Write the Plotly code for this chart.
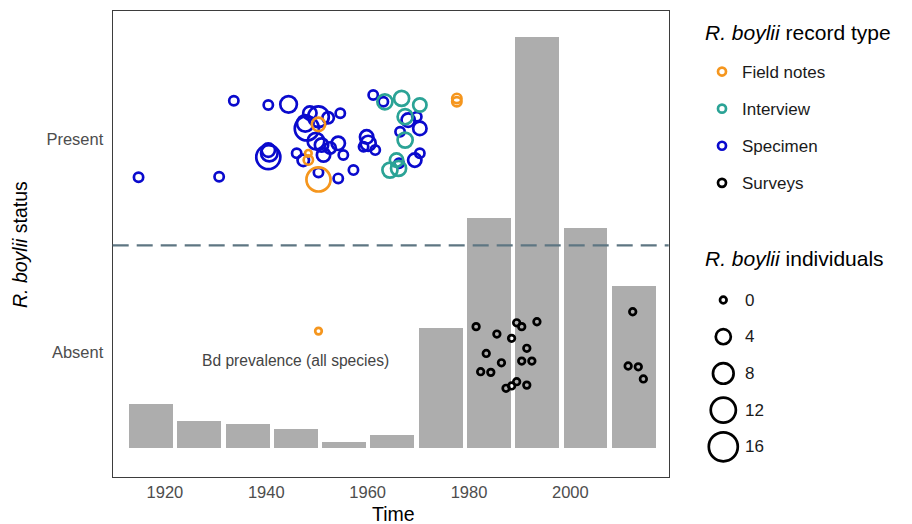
import numpy as np
import plotly.graph_objects as go

# ---------------- data ----------------
# Bd prevalence bars (decadal bins), heights in status-axis units above the bar base
bar_years = [1917.2, 1926.7, 1936.3, 1945.8, 1955.3, 1964.8, 1974.4, 1983.9, 1993.4, 2002.9, 2012.5]
bar_heights = [0.207, 0.127, 0.113, 0.090, 0.028, 0.061, 0.564, 1.081, 1.932, 1.035, 0.762]

# Specimen records (present)
spec_year = [1914.8, 1930.7, 1933.6, 1940.4, 1944.4, 1940.4, 1940.4, 1940.6, 1946.0, 1947.7,
             1948.0, 1950.3, 1950.9, 1951.3, 1950.3, 1954.6, 1954.2, 1955.2, 1957.2, 1954.2,
             1959.8, 1960.1, 1959.2, 1961.5, 1961.1, 1963.1, 1968.0, 1970.3, 1966.4, 1969.7,
             1970.3, 1969.3, 1966.2, 1948.6, 1949.8, 1952.6, 1952.2, 1947.3]
spec_status = [1.820, 1.823, 2.180, 2.160, 2.163, 1.948, 1.915, 1.934, 1.933, 2.074,
               2.050, 2.105, 1.972, 1.925, 1.843, 2.121, 1.980, 1.925, 1.854, 1.815,
               2.010, 1.980, 1.964, 1.948, 2.207, 2.175, 2.089, 2.050, 2.034, 2.105,
               1.933, 1.901, 1.886, 2.122, 1.990, 1.958, 2.100, 1.900]
spec_n = [1, 1, 1, 1, 5, 3, 11, 5, 1, 5,
          11, 8, 3, 3, 1, 1, 3, 1, 1, 1,
          3, 4, 1, 1, 1, 1, 3, 3, 1, 1,
          1, 3, 1, 3, 5, 2, 2, 2]

# Interview records (present)
int_year = [1963.4, 1966.7, 1970.3, 1967.4, 1967.4, 1965.7, 1964.4, 1966.1]
int_status = [2.175, 2.191, 2.160, 2.105, 1.995, 1.901, 1.854, 1.862]
int_n = [4, 4, 3, 4, 4, 3, 4, 4]

# Field notes records (present)
fn_year = [1950.3, 1948.3, 1948.3, 1950.3, 1977.6, 1977.6]
fn_status = [2.069, 1.933, 1.901, 1.810, 2.191, 2.175]
fn_n = [3, 0, 1, 11, 1, 1]

# Surveys (absent)
sv_year = [1981.4, 1985.5, 1983.4, 1982.3, 1984.3, 1986.4, 1988.4, 1989.4, 1990.4, 1993.4,
           1991.4, 1990.4, 1992.4, 1987.3, 1988.4, 1989.4, 1991.4, 2012.3, 2011.4, 2013.4, 2014.4]
sv_status = [1.118, 1.083, 0.992, 0.906, 0.903, 0.948, 1.063, 1.136, 1.118, 1.141,
             1.016, 0.956, 0.956, 0.828, 0.839, 0.859, 0.843, 1.188, 0.933, 0.929, 0.872]
sv_n = [0] * len(sv_year)

# Bd prevalence key point
key_year = [1950.3]
key_status = [1.097]
key_n = [0]

record_types = ["Field notes", "Interview", "Specimen", "Surveys"]
size_legend_vals = [0, 4, 8, 12, 16]
x_tick_vals = [1920, 1940, 1960, 1980, 2000]
y_tick_vals = [1, 2]
y_tick_text = ["Absent", "Present"]

# ---------------- styling ----------------
W, H = 912, 524
FONT = "Liberation Sans, Arial, Helvetica, sans-serif"
LINE_W = 2.7
COLORS = {"Field notes": "#F5961E", "Interview": "#2BA396",
          "Specimen": "#0A0ACD", "Surveys": "#000000"}
BAR_C = "#ADADAD"
BAR_BASE = 0.547
BAR_W = 8.6

PX_L, PX_R, PX_T, PX_B = 112.7, 668.7, 11, 477


def msize(n):
    return np.sqrt(86.5 + 57.4 * np.asarray(n, dtype=float)) - LINE_W


fig = go.Figure()

fig.add_trace(go.Bar(x=bar_years, y=bar_heights, base=BAR_BASE, width=BAR_W,
                     marker=dict(color=BAR_C, line=dict(width=0)),
                     showlegend=False, hoverinfo="skip"))


def pts(x, y, n, color, name):
    return go.Scatter(x=x, y=y, mode="markers", name=name, showlegend=False,
                      marker=dict(symbol="circle-open", size=msize(n), color=color,
                                  opacity=1, line=dict(width=LINE_W, color=color)))


fig.add_trace(pts(spec_year, spec_status, spec_n, COLORS["Specimen"], "Specimen"))
fig.add_trace(pts(int_year, int_status, int_n, COLORS["Interview"], "Interview"))
fig.add_trace(pts(fn_year, fn_status, fn_n, COLORS["Field notes"], "Field notes"))
fig.add_trace(pts(sv_year, sv_status, sv_n, COLORS["Surveys"], "Surveys"))
fig.add_trace(pts(key_year, key_status, key_n, COLORS["Field notes"], "Bd prevalence"))

# legend entries for record type
for rank, name in enumerate(record_types):
    fig.add_trace(go.Scatter(x=[None], y=[None], mode="markers", name=name,
                             legendgroup=name, legendrank=rank + 1, showlegend=True,
                             marker=dict(symbol="circle-open", size=8.0, color=COLORS[name],
                                         opacity=1,
                                         line=dict(width=LINE_W, color=COLORS[name]))))

# size legend drawn on an auxiliary pixel-space axis
leg2_x, leg2_y0, leg2_dy = 723.3, 300, 36.7
fig.add_trace(go.Scatter(
    x=[leg2_x] * len(size_legend_vals),
    y=[leg2_y0 + i * leg2_dy for i in range(len(size_legend_vals))],
    mode="markers", xaxis="x2", yaxis="y2", showlegend=False, hoverinfo="skip",
    marker=dict(symbol="circle-open", size=msize(size_legend_vals), color="#000000",
                opacity=1, line=dict(width=LINE_W, color="#000000"))))

annotations = []
for i, v in enumerate(size_legend_vals):
    annotations.append(dict(x=743, y=leg2_y0 + i * leg2_dy, xref="x2", yref="y2",
                            text=str(v), showarrow=False, xanchor="left", yanchor="middle",
                            font=dict(size=17, color="#1a1a1a", family=FONT)))
annotations += [
    dict(x=703, y=258, xref="x2", yref="y2", text="<i>R. boylii</i> individuals",
         showarrow=False, xanchor="left", yanchor="middle",
         font=dict(size=21, color="#000000", family=FONT)),
    dict(x=703, y=32, xref="x2", yref="y2", text="<i>R. boylii</i> record type",
         showarrow=False, xanchor="left", yanchor="middle",
         font=dict(size=21, color="#000000", family=FONT)),
    dict(x=(PX_L + PX_R) / 2 + 3, y=514, xref="x2", yref="y2", text="Time",
         showarrow=False, xanchor="center", yanchor="middle",
         font=dict(size=19.5, color="#000000", family=FONT)),
    dict(x=20, y=245, xref="x2", yref="y2", text="<i>R. boylii</i> status", textangle=-90,
         showarrow=False, xanchor="center", yanchor="middle",
         font=dict(size=19.5, color="#000000", family=FONT)),
    dict(x=1945.7, y=0.961, xref="x", yref="y", text="Bd prevalence (all species)",
         showarrow=False, xanchor="center", yanchor="middle",
         font=dict(size=15.6, color="#444444", family=FONT)),
]

fig.update_layout(
    width=W, height=H,
    margin=dict(l=0, r=0, t=0, b=0, autoexpand=False),
    paper_bgcolor="white", plot_bgcolor="rgba(0,0,0,0)",
    font=dict(family=FONT, color="#000000"),
    bargap=0,
    xaxis=dict(domain=[PX_L / W, PX_R / W], range=[1909.7, 2019.4],
               tickvals=x_tick_vals, ticks="", showgrid=False, zeroline=False,
               showline=True, mirror=True, linecolor="#3d3d3d", linewidth=1.3,
               tickfont=dict(size=16.5, color="#4d4d4d", family=FONT),
               automargin=False),
    yaxis=dict(domain=[1 - PX_B / H, 1 - PX_T / H], range=[0.411, 2.602],
               tickvals=y_tick_vals, ticktext=y_tick_text, ticks="",
               ticklabelstandoff=5,
               showgrid=False, zeroline=False,
               showline=True, mirror=True, linecolor="#3d3d3d", linewidth=1.3,
               tickfont=dict(size=16.5, color="#4d4d4d", family=FONT),
               automargin=False),
    xaxis2=dict(domain=[0, 1], range=[0, W], visible=False, fixedrange=True, anchor="y2"),
    yaxis2=dict(domain=[0, 1], range=[H, 0], visible=False, fixedrange=True, anchor="x2"),
    legend=dict(x=702 / W, y=1 - 54 / H, xanchor="left", yanchor="top",
                font=dict(size=17, color="#1a1a1a", family=FONT),
                itemsizing="trace", tracegroupgap=12, bgcolor="rgba(0,0,0,0)"),
    shapes=[dict(type="line", xref="x domain", yref="y", x0=0, x1=1, y0=1.5, y1=1.5,
                 line=dict(color="#5E7682", width=2.2, dash="16px,8px"), layer="above")],
    annotations=annotations,
)

fig.write_html("out.html", post_script="document.body.style.margin='0';",
               config={"displayModeBar": False})
